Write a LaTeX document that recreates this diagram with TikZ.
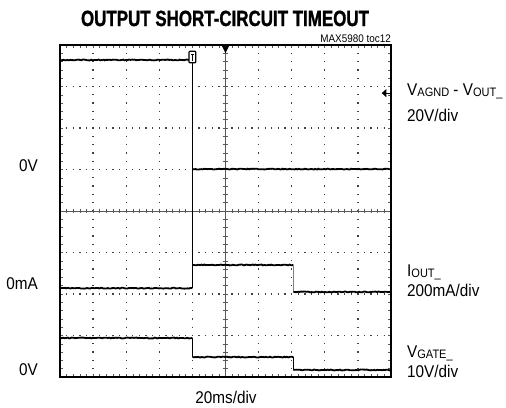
\documentclass[tikz,border=0pt]{standalone}
\usepackage{fontspec}
\setmainfont{Liberation Sans}[FakeStretch=0.9]
\newfontfamily\titlefont{Liberation Sans}[FakeStretch=0.77,BoldFeatures={FakeBold=1.2}]
\usetikzlibrary{decorations.pathmorphing}
\newcommand\lsub[1]{\raisebox{-0.15ex}{\scalebox{0.72}{#1}}}

\begin{document}
\begin{tikzpicture}[x=1pt,y=-1pt,
  lbl/.style={font=\fontsize{17}{19}\selectfont,inner sep=0pt},
  lvl/.style={lbl,anchor=base east},
  chlbl/.style={lbl,anchor=base west},
  trace/.style={line width=1.8pt,decorate,decoration={random steps,segment length=1.5pt,amplitude=0.45pt}},
  edge/.style={line width=0.8pt},
  gdots/.style={line width=1.3pt,black!75},
  axis/.style={line width=0.6pt,black!65}]
  \useasboundingbox (0,0) rectangle (506,407);
  \node(title)[font=\titlefont\bfseries\fontsize{22}{24}\selectfont,inner sep=0pt,anchor=base] at (225,26) {OUTPUT SHORT-CIRCUIT TIMEOUT};
  \node(toc)[font=\fontsize{11}{12}\selectfont,inner sep=0pt,anchor=base east] at (391,42) {MAX5980 toc12};

  \begin{scope}[shift={(60,45)},x=33.1pt,y=-41.5pt]
    % graticule
    \foreach \i in {1,...,9}{\ifnum\i=5\else
      \draw[gdots,dash pattern=on 1.3pt off 7pt,dash phase=0.65pt] (\i,0) -- (\i,8);\fi}
    \foreach \j in {1,...,7}{\ifnum\j=4\else
      \draw[gdots,dash pattern=on 1.3pt off 5.32pt,dash phase=0.65pt] (0,\j) -- (10,\j);\fi}
    \draw[axis] (0,4) -- (10,4);
    \draw[axis] (5,0) -- (5,8);
    \foreach \t in {0.2,0.4,...,9.9}{
      \draw[axis] (\t,3.94) -- (\t,4.06);
      \draw[axis] (\t,0) -- (\t,0.07);
      \draw[axis] (\t,8) -- (\t,7.93);}
    \foreach \t in {0.2,0.4,...,7.9}{
      \draw[axis] (4.91,\t) -- (5.09,\t);
      \draw[axis] (0,\t) -- (0.09,\t);
      \draw[axis] (10,\t) -- (9.91,\t);}
    \draw[line width=2.4pt] (0,0) rectangle (10,8);

    % traces
    \draw[trace] (0,0.36) -- (4,0.36);
    \draw[edge] (4,0.36) -- (4,5.86);
    \draw[trace] (4,2.99) -- (10,2.99);
    \draw[trace] (0,5.86) -- (4,5.86);
    \draw[trace] (4,5.3) -- (7.05,5.3);
    \draw[edge,gray] (7.05,5.3) -- (7.05,5.95);
    \draw[trace] (7.05,5.95) -- (10,5.95);
    \draw[trace] (0,7.06) -- (4,7.06);
    \draw[edge] (4,7.06) -- (4,7.52);
    \draw[trace] (4,7.52) -- (7.05,7.52);
    \draw[edge] (7.05,7.52) -- (7.05,7.83);
    \draw[trace] (7.05,7.83) -- (10,7.83);

    % markers
    \draw[line width=1.2pt,fill=white,rounded corners=0.8pt] (3.9,0.15) rectangle (4.1,0.43);
    \draw[line width=1pt] (3.95,0.22) -- (4.05,0.22) (4,0.22) -- (4,0.38);
    \fill (4.88,0) -- (5.12,0) -- (5,0.2) -- cycle;
    \fill (9.72,1.16) -- (9.86,1.06) -- (9.86,1.26) -- cycle;
    \draw[line width=1.2pt] (9.84,1.16) -- (9.96,1.16);
  \end{scope}

  \node(zero out)[lvl] at (38,171) {0V};
  \node(zero amp)[lvl] at (38,289) {0mA};
  \node(zero gate)[lvl] at (38,375) {0V};
  \node(vout name)[chlbl] at (407,95) {V\lsub{AGND} - V\lsub{OUT\_}};
  \node(vout div)[chlbl] at (407,121) {20V/div};
  \node(iout name)[chlbl] at (407,276) {I\lsub{OUT\_}};
  \node(iout div)[chlbl] at (407,296) {200mA/div};
  \node(gate name)[chlbl] at (407,357) {V\lsub{GATE\_}};
  \node(gate div)[chlbl] at (407,377) {10V/div};
  \node(time div)[lbl,anchor=base] at (226,403) {20ms/div};
\end{tikzpicture}
\end{document}
